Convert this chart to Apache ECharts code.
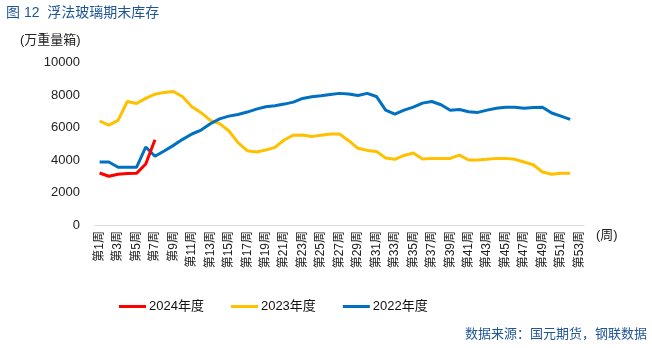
<!DOCTYPE html>
<html><head><meta charset="utf-8">
<script src="https://cdn.jsdelivr.net/npm/echarts@6/dist/echarts.min.js"></script>
<style>html,body{margin:0;padding:0;background:#fff}#c{width:652px;height:348px}</style>
</head><body><div id="c"></div>
<script>
var weeks = [];
for (var w = 1; w <= 53; w++) weeks.push('第' + w + '周');
var s2024 = [3200, 3000, 3120, 3170, 3180, 3750, 5250];
var s2023 = [6400, 6150, 6440, 7600, 7480, 7790, 8050, 8160, 8220, 7890, 7280, 6910, 6440, 6240, 5800, 5070, 4570, 4490, 4610, 4780, 5230, 5530, 5540, 5450, 5530, 5600, 5600, 5190, 4720, 4590, 4530, 4120, 4040, 4280, 4430, 4060, 4100, 4100, 4100, 4300, 4000, 4000, 4040, 4100, 4100, 4040, 3880, 3710, 3260, 3120, 3180, 3180];
var s2022 = [3880, 3880, 3550, 3550, 3550, 4800, 4230, 4550, 4900, 5270, 5600, 5840, 6230, 6530, 6700, 6800, 6950, 7130, 7280, 7340, 7440, 7560, 7790, 7890, 7950, 8030, 8100, 8060, 7970, 8100, 7910, 7070, 6830, 7070, 7250, 7500, 7600, 7400, 7060, 7110, 6970, 6930, 7070, 7190, 7250, 7250, 7180, 7230, 7250, 6890, 6700, 6500];
var seriesNames = ['2024年度', '2023年度', '2022年度'];
var yTicks = [0, 10000, 2000];

var FONT = 'Liberation Sans, "Noto Sans CJK SC", sans-serif';
var chart = echarts.init(document.getElementById('c'));
chart.setOption({
  animation: false,
  textStyle: { fontFamily: FONT },
  grid: { left: 95, right: 68, top: 62.5, bottom: 123 },
  xAxis: {
    type: 'category', data: weeks, boundaryGap: true,
    axisLine: { lineStyle: { color: '#d9d9d9' } },
    axisTick: { interval: 0, lineStyle: { color: '#d9d9d9' }, length: 5 },
    axisLabel: { interval: 1, rotate: 90, color: '#222', fontSize: 12, margin: 6, fontFamily: FONT }
  },
  yAxis: {
    type: 'value', min: yTicks[0], max: yTicks[1], interval: yTicks[2],
    axisLine: { show: false }, axisTick: { show: false }, splitLine: { show: false },
    axisLabel: { color: '#222', fontSize: 13, margin: 15, fontFamily: FONT,
      formatter: function (v) { return String(v); } }
  },
  legend: {
    left: 114, top: 295, itemWidth: 27, itemHeight: 3, itemGap: 27,
    icon: 'rect',
    textStyle: { fontSize: 13, color: '#111', fontFamily: FONT, padding: [0, 0, 0, -2] },
    data: seriesNames
  },
  series: [
    { name: seriesNames[0], type: 'line', data: s2024, showSymbol: false, symbol: 'none', z: 5,
      lineStyle: { width: 3, color: '#ff0000' }, itemStyle: { color: '#ff0000' } },
    { name: seriesNames[1], type: 'line', data: s2023, showSymbol: false, symbol: 'none', z: 3,
      lineStyle: { width: 3, color: '#ffc000' }, itemStyle: { color: '#ffc000' } },
    { name: seriesNames[2], type: 'line', data: s2022, showSymbol: false, symbol: 'none', z: 4,
      lineStyle: { width: 3, color: '#0070c0' }, itemStyle: { color: '#0070c0' } }
  ],
  graphic: [
    { type: 'text', left: 6, top: 6, style: { text: '图 12  浮法玻璃期末库存', fill: '#1f5597', font: '14px ' + FONT } },
    { type: 'text', left: 20, top: 34, style: { text: '(万重量箱)', fill: '#222', font: '13px ' + FONT } },
    { type: 'text', left: 596, top: 229, style: { text: '(周)', fill: '#222', font: '13px ' + FONT } },
    { type: 'text', right: 5, top: 328, style: { text: '数据来源：国元期货，钢联数据', fill: '#1f5597', font: '13px ' + FONT } }
  ]
});
</script></body></html>
